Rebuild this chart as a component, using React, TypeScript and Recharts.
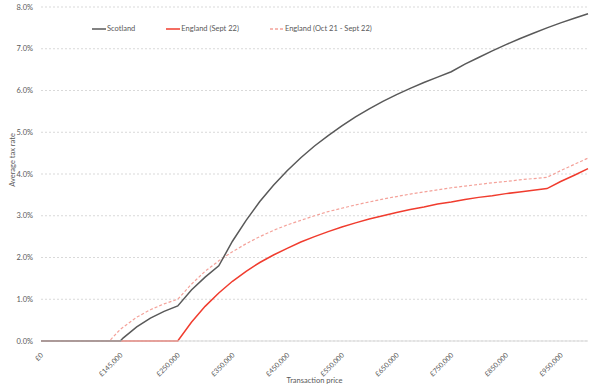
import { LineChart, Line, XAxis, YAxis, CartesianGrid, Legend, Label } from 'recharts'

// transaction prices (£)
const prices = [
  0, 25000, 50000, 75000, 100000, 125000, 145000, 150000, 175000, 200000, 225000,
  250000, 275000, 300000, 325000, 350000, 375000, 400000, 425000, 450000, 475000,
  500000, 525000, 550000, 575000, 600000, 625000, 650000, 675000, 700000, 725000,
  750000, 775000, 800000, 825000, 850000, 875000, 900000, 925000, 950000, 975000, 1000000,
]

// average tax rate, %
const scotland = [
  0, 0, 0, 0, 0, 0, 0, 0.07, 0.34, 0.55, 0.71,
  0.84, 1.22, 1.53, 1.8, 2.39, 2.89, 3.34, 3.73, 4.08, 4.39,
  4.67, 4.92, 5.15, 5.37, 5.56, 5.74, 5.9, 6.05, 6.19, 6.32,
  6.45, 6.63, 6.79, 6.95, 7.1, 7.24, 7.37, 7.5, 7.62, 7.73, 7.84,
]

const englandSept22 = [
  0, 0, 0, 0, 0, 0, 0, 0, 0, 0, 0,
  0, 0.45, 0.83, 1.15, 1.43, 1.67, 1.88, 2.06, 2.22, 2.37,
  2.5, 2.62, 2.73, 2.83, 2.92, 3.0, 3.08, 3.15, 3.21, 3.28,
  3.33, 3.39, 3.44, 3.48, 3.53, 3.57, 3.61, 3.65, 3.82, 3.97, 4.13,
]

const englandOct21 = [
  0, 0, 0, 0, 0, 0, 0.28, 0.33, 0.57, 0.75, 0.89,
  1.0, 1.36, 1.67, 1.92, 2.14, 2.33, 2.5, 2.65, 2.78, 2.89,
  3.0, 3.1, 3.18, 3.26, 3.33, 3.4, 3.46, 3.52, 3.57, 3.62,
  3.67, 3.71, 3.75, 3.79, 3.82, 3.86, 3.89, 3.92, 4.08, 4.23, 4.38,
]

const xTicks = [0, 145000, 250000, 350000, 450000, 550000, 650000, 750000, 850000, 950000]
const yTicks = [0, 1, 2, 3, 4, 5, 6, 7, 8]

const data = prices.map((p, i) => ({
  price: p,
  scotland: scotland[i],
  england22: englandSept22[i],
  england21: englandOct21[i],
}))

const FONT = 'Lato, "Open Sans", sans-serif'
const TEXT = '#595959'
const FS = 7.5

const fmtPrice = (v: number) => '£' + v.toLocaleString('en-GB')

const XTick = (props: any) => {
  const { x, y, payload } = props
  return (
    <g transform={`translate(${x + 1},${y + 5})`}>
      <text
        textAnchor="end"
        transform="rotate(-45)"
        dy="0.35em"
        fill={TEXT}
        fontSize={7}
        fontFamily={FONT}
      >
        {fmtPrice(payload.value)}
      </text>
    </g>
  )
}

const legendItems = [
  { name: 'Scotland', color: '#595959', dash: undefined },
  { name: 'England (Sept 22)', color: '#f03c2e', dash: undefined },
  { name: 'England (Oct 21 - Sept 22)', color: '#f4a29a', dash: '3 2' },
]

const CustomLegend = () => (
  <div style={{ display: 'flex', fontFamily: FONT, fontSize: FS, color: TEXT, whiteSpace: 'nowrap' }}>
    {legendItems.map((it, i) => (
      <div key={it.name} style={{ display: 'flex', alignItems: 'center', marginRight: i < 2 ? 31 : 0 }}>
        <svg width={14} height={4} style={{ marginRight: 1 }}>
          <line x1={0} y1={2} x2={14} y2={2} stroke={it.color} strokeWidth={1.5} strokeDasharray={it.dash} />
        </svg>
        <span style={{ color: TEXT }}>{it.name}</span>
      </div>
    ))}
  </div>
)

const YTitle = (props: any) => {
  const { viewBox } = props
  const cx = 12
  const cy = viewBox.y + viewBox.height / 2 - 14
  return (
    <text
      x={cx}
      y={cy}
      transform={`rotate(-90, ${cx}, ${cy})`}
      textAnchor="middle"
      dominantBaseline="central"
      fill={TEXT}
      fontSize={FS}
      fontFamily={FONT}
    >
      Average tax rate
    </text>
  )
}

export default function App() {
  return (
    <div style={{ position: 'absolute', left: 0, top: 0, width: 600, height: 391, background: '#fff' }}>
      <LineChart
        width={600}
        height={391}
        data={data}
        margin={{ top: 7, right: 12, left: 0, bottom: 0 }}
      >
        <CartesianGrid vertical={false} stroke="#d9d9d9" strokeDasharray="2 2" />
        <XAxis
          dataKey="price"
          type="number"
          domain={[0, 1000000]}
          ticks={xTicks}
          interval={0}
          height={50}
          tick={<XTick />}
          tickLine={false}
          axisLine={{ stroke: '#d9d9d9' }}
        >
          <Label
            value="Transaction price"
            position="insideBottom"
            offset={8}
            fill={TEXT}
            fontSize={FS}
            fontFamily={FONT}
          />
        </XAxis>
        <YAxis
          type="number"
          domain={[0, 8]}
          ticks={yTicks}
          width={41}
          tickFormatter={(v: number) => v.toFixed(1) + '%'}
          tick={{ fill: TEXT, fontSize: FS, fontFamily: FONT }}
          tickLine={false}
          axisLine={false}
        >
          <Label content={<YTitle />} />
        </YAxis>
        <Legend
          layout="horizontal"
          verticalAlign="middle"
          align="center"
          content={<CustomLegend />}
          wrapperStyle={{ top: 24, left: 92, width: 'auto', height: 'auto' }}
        />
        <Line
          type="linear"
          dataKey="england21"
          stroke="#f4a29a"
          strokeWidth={1.2}
          strokeDasharray="3 2"
          dot={false}
          isAnimationActive={false}
        />
        <Line
          type="linear"
          dataKey="england22"
          stroke="#f03c2e"
          strokeWidth={1.5}
          dot={false}
          isAnimationActive={false}
        />
        <Line
          type="linear"
          dataKey="scotland"
          stroke="#595959"
          strokeWidth={1.5}
          dot={false}
          isAnimationActive={false}
        />
      </LineChart>
    </div>
  )
}
